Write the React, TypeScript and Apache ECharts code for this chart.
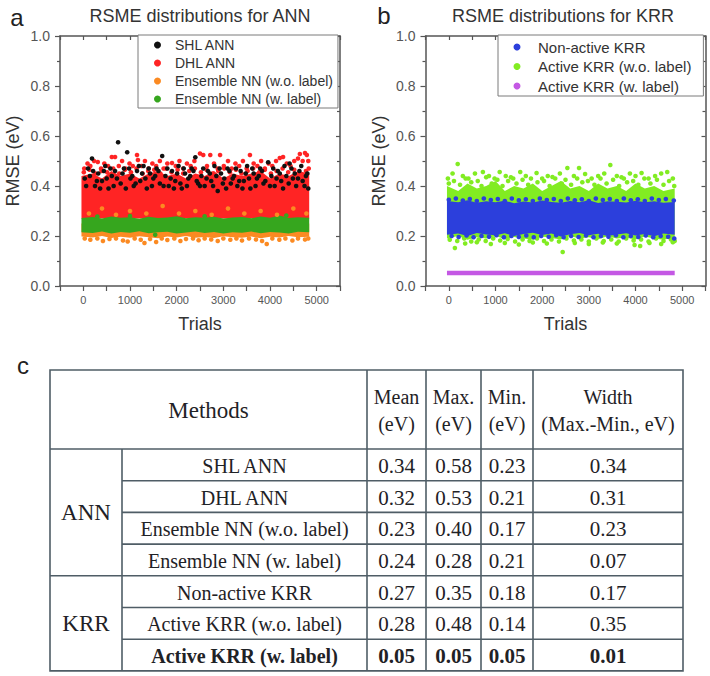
import React, { useEffect, useRef } from 'react';
import * as echarts from 'echarts';

// ---------- Data ----------
// trial positions at which the dense clouds' envelopes were read
const bandTrials = [-40, 200, 400, 600, 800, 1000, 1200, 1400, 1600, 1800, 2000, 2200, 2400, 2600, 2800, 3000, 3200, 3400, 3600, 3800, 4000, 4200, 4400, 4600, 4840];

// Panel a : ANN
const dhlLow = [0.27, 0.27, 0.27, 0.27, 0.27, 0.27, 0.27, 0.27, 0.27, 0.27, 0.27, 0.27, 0.27, 0.27, 0.27, 0.27, 0.27, 0.27, 0.27, 0.27, 0.27, 0.27, 0.27, 0.27, 0.27];
const dhlHigh = [0.44, 0.45, 0.43, 0.46, 0.44, 0.45, 0.43, 0.45, 0.46, 0.44, 0.45, 0.43, 0.45, 0.44, 0.46, 0.43, 0.45, 0.44, 0.45, 0.46, 0.43, 0.45, 0.44, 0.46, 0.45];
const ensWoLow = [0.198, 0.194, 0.2, 0.192, 0.197, 0.193, 0.199, 0.195, 0.191, 0.198, 0.194, 0.2, 0.193, 0.196, 0.192, 0.199, 0.195, 0.193, 0.198, 0.191, 0.197, 0.194, 0.2, 0.195, 0.197];
const ensWoHigh = [0.25, 0.25, 0.25, 0.25, 0.25, 0.25, 0.25, 0.25, 0.25, 0.25, 0.25, 0.25, 0.25, 0.25, 0.25, 0.25, 0.25, 0.25, 0.25, 0.25, 0.25, 0.25, 0.25, 0.25, 0.25];
const ensWLow = [0.215, 0.212, 0.218, 0.21, 0.216, 0.213, 0.219, 0.211, 0.215, 0.217, 0.21, 0.214, 0.218, 0.212, 0.216, 0.21, 0.215, 0.213, 0.218, 0.211, 0.216, 0.214, 0.21, 0.217, 0.215];
const ensWHigh = [0.272, 0.276, 0.27, 0.278, 0.273, 0.275, 0.269, 0.277, 0.272, 0.274, 0.279, 0.271, 0.275, 0.273, 0.277, 0.27, 0.274, 0.276, 0.271, 0.278, 0.273, 0.282, 0.272, 0.275, 0.273];

const shlPoints = [
  [30, 0.43], [100, 0.47], [186, 0.51], [250, 0.40], [320, 0.45], [400, 0.42], [470, 0.48], [540, 0.39], [610, 0.44], [680, 0.46], [745, 0.575], [800, 0.41], [870, 0.47], [940, 0.535], [1010, 0.43], [1080, 0.40], [1150, 0.46], [1220, 0.42], [1290, 0.48], [1360, 0.39], [1430, 0.45], [1500, 0.43], [1570, 0.47], [1640, 0.41], [1690, 0.52], [1760, 0.44], [1830, 0.40], [1900, 0.46], [1970, 0.42], [2040, 0.48], [2110, 0.39], [2180, 0.45], [2250, 0.43], [2320, 0.47], [2400, 0.515], [2460, 0.41], [2530, 0.44], [2600, 0.40], [2670, 0.46], [2740, 0.42], [2810, 0.48], [2880, 0.38], [2950, 0.45], [3020, 0.43], [3090, 0.47], [3160, 0.41], [3230, 0.44], [3300, 0.40], [3370, 0.46], [3440, 0.42], [3510, 0.48], [3580, 0.39], [3650, 0.45], [3720, 0.43], [3790, 0.47], [3860, 0.41], [3960, 0.495], [4030, 0.44], [4100, 0.40], [4170, 0.46], [4240, 0.42], [4310, 0.48], [4420, 0.49], [4490, 0.43], [4560, 0.40], [4630, 0.46], [4700, 0.42], [4770, 0.44], [4820, 0.39],
  [60, 0.40], [140, 0.44], [210, 0.46], [290, 0.42], [360, 0.39], [440, 0.46], [500, 0.43], [580, 0.47], [650, 0.40], [720, 0.43], [840, 0.45], [910, 0.39], [980, 0.47], [1050, 0.44], [1120, 0.41], [1190, 0.48], [1260, 0.45], [1330, 0.43], [1400, 0.47], [1470, 0.40], [1540, 0.44], [1610, 0.46], [1720, 0.40], [1800, 0.47], [1870, 0.43], [1940, 0.39], [2010, 0.45], [2080, 0.41], [2150, 0.47], [2220, 0.40], [2290, 0.44], [2360, 0.46], [2430, 0.42], [2500, 0.40], [2570, 0.47], [2640, 0.43], [2710, 0.45], [2780, 0.40], [2850, 0.44], [2920, 0.47], [2990, 0.41], [3060, 0.39], [3130, 0.46], [3200, 0.43], [3270, 0.47], [3340, 0.42], [3410, 0.39], [3480, 0.45], [3550, 0.43], [3620, 0.47], [3690, 0.40], [3760, 0.44], [3830, 0.46], [3900, 0.42], [4000, 0.40], [4070, 0.47], [4140, 0.43], [4210, 0.45], [4280, 0.39], [4350, 0.44], [4400, 0.41], [4460, 0.47], [4530, 0.45], [4600, 0.43], [4670, 0.48], [4740, 0.40], [4800, 0.45]
];
const dhlPoints = [
  [20, 0.47], [90, 0.49], [150, 0.48], [230, 0.50], [310, 0.496], [380, 0.47], [450, 0.49], [530, 0.48], [610, 0.516], [680, 0.516], [760, 0.48], [830, 0.50], [900, 0.47], [990, 0.49], [1060, 0.48], [1150, 0.524], [1170, 0.504], [1250, 0.48], [1320, 0.50], [1400, 0.47], [1480, 0.49], [1560, 0.48], [1640, 0.50], [1720, 0.47], [1800, 0.49], [1900, 0.492], [1980, 0.48], [2060, 0.50], [2140, 0.47], [2220, 0.49], [2300, 0.48], [2380, 0.50], [2500, 0.53], [2570, 0.524], [2650, 0.48], [2720, 0.524], [2800, 0.49], [2880, 0.47], [2930, 0.524], [3010, 0.48], [3100, 0.50], [3180, 0.47], [3260, 0.49], [3340, 0.48], [3420, 0.50], [3500, 0.47], [3570, 0.524], [3650, 0.49], [3730, 0.48], [3810, 0.50], [3890, 0.47], [3970, 0.49], [4050, 0.48], [4130, 0.50], [4210, 0.512], [4280, 0.516], [4360, 0.49], [4440, 0.48], [4520, 0.50], [4600, 0.51], [4640, 0.528], [4700, 0.50], [4750, 0.532], [4790, 0.524], [4820, 0.50],
  [10, 0.455], [130, 0.465], [260, 0.45], [390, 0.46], [510, 0.455], [640, 0.47], [770, 0.45], [890, 0.465], [1020, 0.455], [1140, 0.47], [1270, 0.45], [1390, 0.46], [1520, 0.465], [1650, 0.45], [1770, 0.47], [1890, 0.455], [2020, 0.465], [2140, 0.45], [2270, 0.46], [2390, 0.47], [2520, 0.455], [2640, 0.465], [2770, 0.45], [2890, 0.46], [3020, 0.47], [3140, 0.455], [3270, 0.465], [3390, 0.45], [3520, 0.46], [3640, 0.47], [3770, 0.455], [3890, 0.465], [4020, 0.45], [4140, 0.46], [4270, 0.47], [4390, 0.455], [4520, 0.465], [4640, 0.45], [4770, 0.46], [4830, 0.47]
];
const ensWoPoints = [
  [30, 0.19], [150, 0.185], [300, 0.19], [420, 0.18], [560, 0.188], [700, 0.19], [850, 0.182], [950, 0.178], [1100, 0.19], [1230, 0.185], [1310, 0.172], [1430, 0.188], [1560, 0.176], [1680, 0.19], [1800, 0.184], [1950, 0.19], [2080, 0.18], [2200, 0.188], [2350, 0.19], [2470, 0.183], [2600, 0.19], [2740, 0.186], [2880, 0.18], [3000, 0.19], [3150, 0.185], [3280, 0.19], [3400, 0.182], [3550, 0.19], [3700, 0.186], [3830, 0.18], [3930, 0.168], [4050, 0.19], [4200, 0.185], [4330, 0.19], [4480, 0.182], [4600, 0.19], [4750, 0.186], [4820, 0.19],
  [120, 0.29], [400, 0.31], [700, 0.285], [1000, 0.30], [1350, 0.29], [1700, 0.32], [2050, 0.29], [2400, 0.30], [2750, 0.285], [3100, 0.31], [3450, 0.29], [3800, 0.30], [4150, 0.285], [4500, 0.31], [4780, 0.29]
];
const ensWPoints = [[300, 0.278], [1000, 0.28], [1540, 0.205], [2600, 0.279], [4350, 0.282]];

// Panel b : KRR
const krrWoLow = [0.19, 0.2, 0.185, 0.195, 0.19, 0.2, 0.188, 0.196, 0.19, 0.185, 0.198, 0.192, 0.186, 0.2, 0.19, 0.195, 0.187, 0.199, 0.19, 0.194, 0.186, 0.198, 0.19, 0.185, 0.195];
const krrWoHigh = [0.4, 0.38, 0.41, 0.39, 0.4, 0.42, 0.38, 0.4, 0.39, 0.41, 0.38, 0.4, 0.42, 0.39, 0.4, 0.38, 0.41, 0.39, 0.4, 0.38, 0.41, 0.39, 0.4, 0.38, 0.39];
const krrNonLow = [0.205, 0.21, 0.2, 0.212, 0.206, 0.203, 0.211, 0.2, 0.208, 0.213, 0.204, 0.21, 0.198, 0.207, 0.212, 0.203, 0.209, 0.2, 0.206, 0.211, 0.202, 0.208, 0.199, 0.21, 0.205];
const krrNonHigh = [0.34, 0.335, 0.343, 0.333, 0.339, 0.335, 0.341, 0.331, 0.338, 0.334, 0.342, 0.336, 0.333, 0.34, 0.335, 0.343, 0.332, 0.339, 0.337, 0.334, 0.341, 0.335, 0.339, 0.333, 0.336];
const krrWoPoints = [
  [-20, 0.43], [80, 0.45], [190, 0.488], [300, 0.44], [420, 0.43], [560, 0.45], [730, 0.456], [860, 0.44], [980, 0.43], [1090, 0.456], [1220, 0.44], [1380, 0.43], [1530, 0.456], [1650, 0.44], [1880, 0.452], [2000, 0.43], [2120, 0.44], [2220, 0.436], [2380, 0.45], [2540, 0.472], [2680, 0.44], [2790, 0.472], [2920, 0.448], [3060, 0.43], [3200, 0.44], [3330, 0.45], [3460, 0.484], [3600, 0.44], [3750, 0.43], [3880, 0.45], [4000, 0.44], [4130, 0.452], [4280, 0.43], [4420, 0.44], [4550, 0.45], [4680, 0.456], [4800, 0.43],
  [0, 0.41], [110, 0.42], [240, 0.405], [360, 0.43], [480, 0.415], [620, 0.42], [700, 0.40], [800, 0.435], [920, 0.41], [1040, 0.425], [1150, 0.40], [1270, 0.42], [1330, 0.435], [1450, 0.41], [1580, 0.425], [1700, 0.405], [1760, 0.43], [1900, 0.415], [2040, 0.42], [2160, 0.40], [2280, 0.43], [2420, 0.41], [2500, 0.425], [2620, 0.405], [2750, 0.43], [2860, 0.415], [2980, 0.42], [3120, 0.405], [3250, 0.43], [3380, 0.41], [3520, 0.425], [3650, 0.40], [3700, 0.435], [3820, 0.415], [3950, 0.42], [4060, 0.405], [4190, 0.43], [4320, 0.41], [4460, 0.425], [4600, 0.405], [4720, 0.42], [4830, 0.40],
  [130, 0.152], [350, 0.17], [600, 0.175], [900, 0.168], [1200, 0.172], [1500, 0.166], [1800, 0.174], [2100, 0.17], [2440, 0.136], [2700, 0.172], [3000, 0.168], [3300, 0.174], [3600, 0.17], [3980, 0.164], [4100, 0.16], [4300, 0.172], [4550, 0.168], [4800, 0.175],
  [20, 0.185], [180, 0.18], [330, 0.19], [480, 0.178], [640, 0.186], [790, 0.18], [950, 0.19], [1100, 0.182], [1260, 0.188], [1420, 0.178], [1580, 0.186], [1730, 0.18], [1890, 0.19], [2040, 0.18], [2200, 0.186], [2360, 0.178], [2520, 0.19], [2680, 0.182], [2840, 0.186], [3000, 0.178], [3160, 0.19], [3320, 0.18], [3480, 0.186], [3640, 0.178], [3800, 0.19], [3960, 0.182], [4120, 0.186], [4280, 0.178], [4440, 0.19], [4600, 0.18], [4760, 0.186], [4840, 0.18]
];
const krrNonPoints = [
  [0, 0.345], [150, 0.35], [300, 0.342], [450, 0.348], [600, 0.34], [750, 0.35], [900, 0.344], [1050, 0.348], [1200, 0.34], [1350, 0.35], [1500, 0.343], [1650, 0.347], [1800, 0.34], [1950, 0.35], [2100, 0.344], [2250, 0.348], [2400, 0.34], [2550, 0.35], [2700, 0.343], [2850, 0.347], [3000, 0.34], [3150, 0.35], [3300, 0.344], [3450, 0.348], [3600, 0.34], [3750, 0.35], [3900, 0.343], [4050, 0.347], [4200, 0.34], [4350, 0.35], [4500, 0.344], [4650, 0.348], [4820, 0.342],
  [60, 0.2], [210, 0.196], [380, 0.202], [530, 0.195], [700, 0.2], [860, 0.197], [1020, 0.203], [1180, 0.195], [1340, 0.2], [1500, 0.196], [1660, 0.202], [1820, 0.195], [1980, 0.2], [2140, 0.197], [2300, 0.203], [2460, 0.195], [2620, 0.2], [2780, 0.196], [2940, 0.202], [3100, 0.195], [3260, 0.2], [3420, 0.197], [3580, 0.203], [3740, 0.195], [3900, 0.2], [4060, 0.196], [4220, 0.202], [4380, 0.195], [4540, 0.2], [4700, 0.197], [4830, 0.19]
];
const krrLabelTrials = [-40, 4840];
const krrLabelRmse = [0.052, 0.052];

// Legends
const annNames = ['SHL ANN', 'DHL ANN', 'Ensemble NN (w.o. label)', 'Ensemble NN (w. label)'];
const krrNames = ['Non-active KRR', 'Active KRR (w.o. label)', 'Active KRR (w. label)'];

// Axis ticks
const xTickLabels = [0, 1000, 2000, 3000, 4000, 5000];

// Table
const groupNames = ['ANN', 'KRR'];
const groupSizes = [4, 3];
const methodNames = ['SHL ANN', 'DHL ANN', 'Ensemble NN (w.o. label)', 'Ensemble NN (w. label)', 'Non-active KRR', 'Active KRR (w.o. label)', 'Active KRR (w. label)'];
const meanEV = [0.34, 0.32, 0.23, 0.24, 0.27, 0.28, 0.05];
const maxEV = [0.58, 0.53, 0.40, 0.28, 0.35, 0.48, 0.05];
const minEV = [0.23, 0.21, 0.17, 0.21, 0.18, 0.14, 0.05];
const widthEV = [0.34, 0.31, 0.23, 0.07, 0.17, 0.35, 0.01];
const headerLine1 = ['Mean', 'Max.', 'Min.', 'Width'];
const headerLine2 = ['(eV)', '(eV)', '(eV)', '(Max.-Min., eV)'];
const boldRows = [6];

// ---------- Styling ----------
const C = {
  shl: '#111111',
  dhl: '#ff2424',
  ensWo: '#fb8a22',
  ensW: '#36a61e',
  krrNon: '#2c3fdc',
  krrWo: '#82ec22',
  krrLabel: '#c458e4',
};
const SANS = "'Liberation Sans', Arial, sans-serif";
const SERIF = "'Liberation Serif', 'Times New Roman', serif";
const AXIS = '#555';

// dense cloud drawn as a filled polygon between its lower and upper envelopes
function bandSeries(name: string, xi: number, low: number[], high: number[], color: string) {
  const rows = bandTrials.map((t, i) => [t, low[i], high[i]]);
  return {
    type: 'custom', name, xAxisIndex: xi, yAxisIndex: xi, silent: true,
    itemStyle: { color },
    encode: { x: 0, y: [1, 2] },
    data: rows,
    renderItem: (params: any, api: any) => {
      if (params.dataIndex !== 0) return null;
      const upper = rows.map((r) => api.coord([r[0], r[2]]));
      const lower = rows.map((r) => api.coord([r[0], r[1]])).reverse();
      return { type: 'polygon', shape: { points: upper.concat(lower) }, style: { fill: color } };
    },
  };
}
function dots(name: string, xi: number, data: number[][], color: string) {
  return {
    type: 'scatter', name, xAxisIndex: xi, yAxisIndex: xi, silent: true,
    symbolSize: 4.6, itemStyle: { color, opacity: 1 }, data,
  };
}

function axesFor(grid: number) {
  const x = [
    {
      gridIndex: grid, type: 'value', min: -500, max: 5500, interval: 500, position: 'bottom',
      axisLine: { show: true, onZero: false, lineStyle: { color: AXIS, width: 1.5 } },
      axisTick: { show: true, inside: false, length: 5, lineStyle: { color: AXIS, width: 1.2 } },
      axisLabel: {
        color: '#555', fontSize: 11, fontFamily: SANS, margin: 8,
        formatter: (v: number) => (xTickLabels.indexOf(v) >= 0 ? String(v) : ''),
      },
      splitLine: { show: false },
      name: 'Trials', nameLocation: 'middle', nameGap: 29,
      nameTextStyle: { fontSize: 18, color: '#333', fontFamily: SANS, verticalAlign: 'top' },
    },
    {
      gridIndex: grid, type: 'value', min: -500, max: 5500, interval: 500, position: 'top',
      axisLine: { show: true, onZero: false, lineStyle: { color: AXIS, width: 1.5 } },
      axisTick: { show: true, inside: true, length: 4, lineStyle: { color: AXIS, width: 1.2 } },
      axisLabel: { show: false }, splitLine: { show: false },
    },
  ];
  const y = [
    {
      gridIndex: grid, type: 'value', min: 0, max: 1, interval: 0.2, position: 'left',
      axisLine: { show: true, onZero: false, lineStyle: { color: AXIS, width: 1.5 } },
      axisTick: { show: true, inside: false, length: 5, lineStyle: { color: AXIS, width: 1.2 } },
      minorTick: { show: true, splitNumber: 2, length: 3, lineStyle: { color: AXIS, width: 1.2 } },
      axisLabel: { color: '#555', fontSize: 14, fontFamily: SANS, margin: 10, formatter: (v: number) => v.toFixed(1) },
      splitLine: { show: false },
      name: 'RMSE (eV)', nameLocation: 'middle', nameGap: 38,
      nameTextStyle: { fontSize: 18, color: '#333', fontFamily: SANS },
    },
    {
      gridIndex: grid, type: 'value', min: 0, max: 1, interval: 0.2, position: 'right',
      axisLine: { show: true, onZero: false, lineStyle: { color: AXIS, width: 1.5 } },
      axisTick: { show: true, inside: true, length: 4, lineStyle: { color: AXIS, width: 1.2 } },
      minorTick: { show: true, splitNumber: 2, length: 3, lineStyle: { color: AXIS, width: 1.2 } },
      axisLabel: { show: false }, splitLine: { show: false },
    },
  ];
  return { x, y };
}

function tableGraphics() {
  const colX = [50, 122, 367, 426, 481, 533, 683];
  const top = 370;
  const headBottom = 449;
  const rowH = 31.7;
  const bottom = headBottom + rowH * methodNames.length;
  const stroke = '#4f5d66';
  const lw = 1.6;
  const txt = '#1f2226';
  const els: any[] = [];
  const line = (x1: number, y1: number, x2: number, y2: number) =>
    els.push({ type: 'line', shape: { x1, y1, x2, y2 }, style: { stroke, lineWidth: lw } });
  const text = (s: string, x: number, y: number, size: number, bold = false) =>
    els.push({
      type: 'text', x, y,
      style: { text: s, fill: txt, fontSize: size, fontFamily: SERIF, fontWeight: bold ? 'bold' : 'normal', align: 'center', verticalAlign: 'middle' },
    });

  els.push({ type: 'rect', shape: { x: colX[0], y: top, width: colX[6] - colX[0], height: bottom - top }, style: { fill: 'none', stroke, lineWidth: lw } });
  line(colX[0], headBottom, colX[6], headBottom);
  for (let c = 2; c <= 5; c++) line(colX[c], top, colX[c], bottom);
  line(colX[1], headBottom, colX[1], bottom);
  const groupEnds: number[] = [];
  let acc = 0;
  groupSizes.forEach((g) => { acc += g; groupEnds.push(acc); });
  for (let r = 1; r < methodNames.length; r++) {
    const y = headBottom + r * rowH;
    const full = groupEnds.indexOf(r) >= 0;
    line(full ? colX[0] : colX[1], y, colX[6], y);
  }
  text('Methods', (colX[0] + colX[2]) / 2, (top + headBottom) / 2 + 1, 23);
  headerLine1.forEach((h, i) => {
    const cx = (colX[i + 2] + colX[i + 3]) / 2;
    text(h, cx, (top + headBottom) / 2 - 12.5, 20);
    text(headerLine2[i], cx, (top + headBottom) / 2 + 14.5, 20);
  });
  let start = 0;
  groupNames.forEach((g, gi) => {
    const y0 = headBottom + start * rowH;
    const y1 = headBottom + (start + groupSizes[gi]) * rowH;
    text(g, (colX[0] + colX[1]) / 2, (y0 + y1) / 2, 23);
    start += groupSizes[gi];
  });
  methodNames.forEach((m, r) => {
    const cy = headBottom + (r + 0.5) * rowH + 1;
    const b = boldRows.indexOf(r) >= 0;
    text(m, (colX[1] + colX[2]) / 2, cy, 20, b);
    [meanEV, maxEV, minEV, widthEV].forEach((arr, k) => {
      text(arr[r].toFixed(2), (colX[k + 2] + colX[k + 3]) / 2, cy, 21, b);
    });
  });
  return els;
}

export default function App() {
  const ref = useRef<HTMLDivElement>(null);
  useEffect(() => {
    if (!ref.current) return;
    const chart = echarts.init(ref.current, undefined, { renderer: 'svg' });
    const a = axesFor(0);
    const b = axesFor(1);
    const legendCommon = {
      orient: 'vertical', icon: 'circle', itemWidth: 7, itemHeight: 7,
      borderColor: '#7a7a7a', borderWidth: 1, backgroundColor: '#fff', selectedMode: false,
    };
    const option: any = {
      animation: false,
      backgroundColor: '#fff',
      grid: [
        { left: 60, top: 36, width: 280, height: 250 },
        { left: 425.5, top: 36, width: 280, height: 250 },
      ],
      xAxis: [...a.x, ...b.x],
      yAxis: [...a.y, ...b.y],
      legend: [
        {
          ...legendCommon, left: 138, top: 35, padding: [3, 5, 2, 16], itemGap: 4,
          textStyle: { fontSize: 14, color: '#333', fontFamily: SANS, lineHeight: 14, padding: [0, 0, 0, 9] },
          data: [
            { name: annNames[0], itemStyle: { color: C.shl } },
            { name: annNames[1], itemStyle: { color: C.dhl } },
            { name: annNames[2], itemStyle: { color: C.ensWo } },
            { name: annNames[3], itemStyle: { color: C.ensW } },
          ],
        },
        {
          ...legendCommon, left: 498, top: 35, padding: [4.5, 12, 2.5, 15.5], itemGap: 4.5,
          textStyle: { fontSize: 15, color: '#333', fontFamily: SANS, lineHeight: 15, padding: [0, 0, 0, 12.5] },
          data: [
            { name: krrNames[0], itemStyle: { color: C.krrNon } },
            { name: krrNames[1], itemStyle: { color: C.krrWo } },
            { name: krrNames[2], itemStyle: { color: C.krrLabel } },
          ],
        },
      ],
      series: [
        // panel a
        bandSeries(annNames[1], 0, dhlLow, dhlHigh, C.dhl),
        dots(annNames[1], 0, dhlPoints, C.dhl),
        dots(annNames[0], 0, shlPoints, C.shl),
        bandSeries(annNames[2], 0, ensWoLow, ensWoHigh, C.ensWo),
        dots(annNames[2], 0, ensWoPoints, C.ensWo),
        bandSeries(annNames[3], 0, ensWLow, ensWHigh, C.ensW),
        dots(annNames[3], 0, ensWPoints, C.ensW),
        // panel b
        bandSeries(krrNames[1], 2, krrWoLow, krrWoHigh, C.krrWo),
        dots(krrNames[1], 2, krrWoPoints, C.krrWo),
        bandSeries(krrNames[0], 2, krrNonLow, krrNonHigh, C.krrNon),
        dots(krrNames[0], 2, krrNonPoints, C.krrNon),
        {
          type: 'line', name: krrNames[2], xAxisIndex: 2, yAxisIndex: 2, silent: true,
          symbol: 'none', showSymbol: false, itemStyle: { color: C.krrLabel },
          lineStyle: { color: C.krrLabel, width: 4.5 },
          data: krrLabelTrials.map((t, i) => [t, krrLabelRmse[i]]),
        },
      ],
      graphic: [
        { type: 'text', x: 17, y: 17, style: { text: 'a', fontSize: 24, fontFamily: SANS, fill: '#222', align: 'center', verticalAlign: 'middle' } },
        { type: 'text', x: 200, y: 16, style: { text: 'RSME distributions for ANN', fontSize: 18, fontFamily: SANS, fill: '#333', align: 'center', verticalAlign: 'middle' } },
        { type: 'text', x: 384, y: 15, style: { text: 'b', fontSize: 24, fontFamily: SANS, fill: '#222', align: 'center', verticalAlign: 'middle' } },
        { type: 'text', x: 563, y: 16, style: { text: 'RSME distributions for KRR', fontSize: 18, fontFamily: SANS, fill: '#333', align: 'center', verticalAlign: 'middle' } },
        { type: 'text', x: 23, y: 365, style: { text: 'c', fontSize: 24, fontFamily: SANS, fill: '#222', align: 'center', verticalAlign: 'middle' } },
        ...tableGraphics(),
      ],
    };
    chart.setOption(option);
    return () => chart.dispose();
  }, []);
  return <div ref={ref} style={{ position: 'absolute', left: 0, top: 0, width: 710, height: 676 }} />;
}
